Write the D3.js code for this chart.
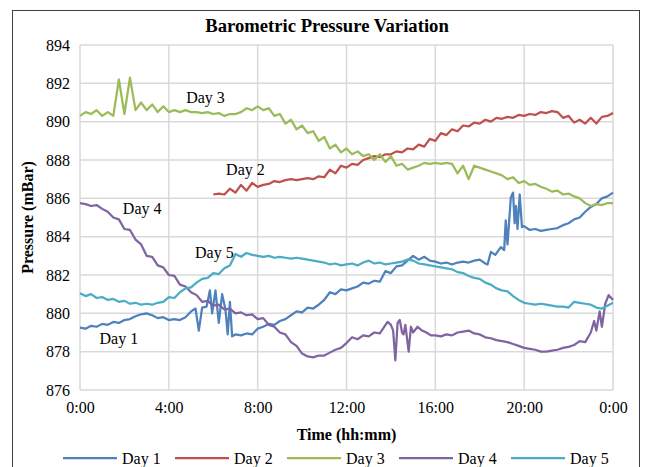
<!DOCTYPE html>
<html><head><meta charset="utf-8">
<script src="https://cdn.jsdelivr.net/npm/d3@7"></script>
<style>
body{margin:0;background:#fff}
svg{display:block}
text{font-family:"Liberation Serif","Times New Roman",serif;fill:#000}
</style>
</head><body>
<svg id="chart" width="645" height="467"></svg>
<script>
// ---------- data ----------
const chartTitle = "Barometric Pressure Variation";
const xAxisTitle = "Time (hh:mm)";
const yAxisTitle = "Pressure (mBar)";
const xTickHours = [0, 4, 8, 12, 16, 20, 24];
const xTickLabels = ["0:00", "4:00", "8:00", "12:00", "16:00", "20:00", "0:00"];
const yTicks = [876, 878, 880, 882, 884, 886, 888, 890, 892, 894];
const seriesNames = ["Day 1", "Day 2", "Day 3", "Day 4", "Day 5"];

// 15-minute sampling grid (hours) used by Day 2, Day 3, Day 5
const gridHours = d3.range(0, 24.001, 0.25);

// Day 1: [hour, mBar]
const day1 = [
 [0,879.25],[0.25,879.2],[0.5,879.35],[0.75,879.3],[1,879.45],[1.25,879.4],[1.5,879.55],[1.75,879.5],
 [2,879.65],[2.25,879.7],[2.5,879.85],[2.75,879.95],[3,880.0],[3.25,879.9],[3.5,879.75],[3.75,879.8],
 [4,879.65],[4.25,879.7],[4.5,879.65],[4.75,879.8],[5,880.1],[5.2,880.25],[5.35,879.1],[5.5,880.3],
 [5.7,880.35],[5.85,881.2],[5.95,880.0],[6.1,881.2],[6.25,879.5],[6.4,881.0],[6.55,880.2],[6.65,878.9],
 [6.75,880.6],[6.85,878.8],[7,878.9],[7.25,878.85],[7.5,878.95],[7.75,878.9],[8,879.2],[8.25,879.3],
 [8.5,879.45],[8.75,879.4],[9,879.6],[9.25,879.7],[9.5,879.9],[9.75,880.1],[10,880.05],[10.25,880.3],
 [10.5,880.25],[10.75,880.45],[11,880.7],[11.25,881.1],[11.5,881.0],[11.75,881.25],[12,881.2],[12.25,881.3],
 [12.5,881.4],[12.75,881.6],[13,881.55],[13.25,881.7],[13.5,881.65],[13.75,882.2],[14,882.1],[14.25,882.45],
 [14.5,882.5],[14.75,882.75],[15,883.0],[15.25,882.8],[15.5,882.95],[15.75,882.75],[16,882.7],[16.25,882.6],
 [16.5,882.65],[16.75,882.55],[17,882.65],[17.25,882.7],[17.5,882.65],[17.75,882.75],[18,882.8],[18.25,882.6],
 [18.35,882.55],[18.5,883.2],[18.7,883.05],[18.95,883.45],[19.1,883.3],[19.17,884.85],[19.25,883.6],[19.4,886.05],
 [19.5,886.3],[19.57,884.7],[19.63,885.6],[19.7,884.4],[19.8,886.2],[19.9,884.5],[20,884.55],[20.25,884.35],
 [20.5,884.4],[20.75,884.3],[21,884.35],[21.25,884.4],[21.5,884.45],[21.75,884.6],[22,884.7],[22.25,884.9],
 [22.5,885.0],[22.75,885.3],[23,885.55],[23.25,885.7],[23.5,886.0],[23.75,886.1],[24,886.3]
];

// Day 2: starts 6:00, on the 15-minute grid
const day2Start = 6;
const day2 = [
 886.2,886.25,886.2,886.5,   886.3,886.7,886.4,886.8,   886.6,886.7,886.75,886.9,
 886.85,886.95,887.0,886.95, 887.0,887.05,887.0,887.15, 887.1,887.5,887.3,887.7,
 887.6,887.8,887.75,888.0,   888.1,888.2,888.15,888.3,  888.3,888.45,888.4,888.6,
 888.55,888.8,888.7,889.1,   889.0,889.4,889.3,889.6,   889.5,889.8,889.75,889.95,
 889.9,890.1,890.0,890.2,    890.15,890.25,890.2,890.35, 890.3,890.4,890.35,890.5,
 890.45,890.55,890.5,890.2,  890.3,889.95,890.1,889.9,  890.2,889.9,890.25,890.3,
 890.45
];

// Day 3: 0:00-24:00 on the 15-minute grid
const day3 = [
 890.3,890.5,890.4,890.6,  890.3,890.5,890.3,892.2,  890.4,892.3,890.6,891.0,  890.6,890.9,890.5,890.8,
 890.5,890.6,890.5,890.6,  890.5,890.5,890.45,890.5, 890.4,890.45,890.3,890.4, 890.4,890.5,890.7,890.6,
 890.8,890.6,890.7,890.3,  890.4,889.9,890.1,889.6,  889.8,889.4,889.5,889.0,  889.2,888.6,888.8,888.4,
 888.6,888.3,888.45,888.2, 888.3,888.0,888.3,887.9,  888.2,887.7,887.8,887.5,  887.6,887.7,887.85,887.8,
 887.85,887.8,887.85,887.8, 887.3,887.7,887.0,887.7, 887.6,887.5,887.4,887.3,  887.2,887.0,887.1,886.8,
 886.9,886.7,886.75,886.6, 886.5,886.35,886.4,886.2, 886.25,886.1,886.0,885.75, 885.6,885.7,885.65,885.75,
 885.75
];

// Day 4: [hour, mBar]
const day4 = [
 [0,885.75],[0.25,885.7],[0.5,885.6],[0.75,885.65],[1,885.45],[1.25,885.3],[1.5,885.0],[1.75,884.9],
 [2,884.4],[2.25,884.35],[2.5,883.85],[2.75,883.6],[3,883.0],[3.25,882.95],[3.5,882.5],[3.75,882.4],
 [4,882.0],[4.25,881.95],[4.5,881.5],[4.75,881.4],[5,881.1],[5.25,880.95],[5.5,880.6],[5.75,880.65],
 [6,880.4],[6.25,880.45],[6.5,880.2],[6.75,880.25],[7,880.0],[7.25,880.05],[7.5,879.9],[7.75,879.95],
 [8,879.7],[8.25,879.75],[8.5,879.4],[8.75,879.3],[9,879.0],[9.25,878.9],[9.5,878.5],[9.75,878.3],
 [10,877.9],[10.25,877.75],[10.5,877.7],[10.75,877.8],[11,877.8],[11.25,877.95],[11.5,878.1],[11.75,878.2],
 [12,878.45],[12.25,878.75],[12.5,878.65],[12.75,878.85],[13,878.8],[13.25,879.0],[13.5,878.95],[13.85,879.55],
 [14,879.4],[14.1,879.1],[14.2,877.55],[14.3,879.5],[14.4,879.65],[14.5,879.0],[14.57,878.9],[14.65,879.4],
 [14.8,878.0],[14.9,879.3],[15,879.0],[15.2,879.3],[15.4,879.1],[15.6,879.0],[15.8,878.85],[16,878.85],
 [16.25,878.8],[16.5,878.9],[16.75,878.85],[17,879.0],[17.25,879.05],[17.5,879.1],[17.75,878.95],[18,878.9],
 [18.25,878.75],[18.5,878.7],[18.75,878.6],[19,878.55],[19.25,878.5],[19.5,878.4],[19.75,878.3],[20,878.2],
 [20.25,878.15],[20.5,878.1],[20.75,878.0],[21,878.0],[21.25,878.05],[21.5,878.1],[21.75,878.2],[22,878.25],
 [22.25,878.35],[22.5,878.55],[22.75,878.5],[23,879.0],[23.15,879.6],[23.25,879.1],[23.4,880.1],[23.5,879.3],
 [23.65,880.5],[23.8,880.95],[24,880.7]
];

// Day 5: 0:00-24:00 on the 15-minute grid
const day5 = [
 881.05,880.9,881.0,880.8,   880.85,880.7,880.75,880.6,  880.65,880.5,880.55,880.45, 880.5,880.45,880.55,880.6,
 880.85,880.8,881.1,881.3,   881.35,881.6,881.8,881.85,  882.1,882.05,882.35,882.5,  883.1,882.95,883.15,883.05,
 883.0,882.95,883.0,882.9,   882.95,882.9,882.85,882.9,  882.85,882.8,882.75,882.7,  882.65,882.55,882.6,882.5,
 882.55,882.6,882.5,882.65,  882.75,882.6,882.65,882.55, 882.6,882.65,882.7,882.8,   882.75,882.6,882.55,882.5,
 882.45,882.4,882.35,882.3,  882.15,882.1,881.95,881.85, 881.8,881.6,881.5,881.3,    881.2,881.15,880.9,880.7,
 880.55,880.5,880.45,880.5,  880.45,880.4,880.35,880.35, 880.3,880.6,880.55,880.5,   880.45,880.3,880.25,880.4,
 880.55
];

// in-plot labels: [series index, hour, mBar]
const pointLabels = [
 [0, 1.75, 878.4],
 [1, 7.45, 887.2],
 [2, 5.65, 891.0],
 [3, 2.8, 885.2],
 [4, 6.05, 882.9]
];

const colors = ["#4F81BD", "#C0504D", "#9BBB59", "#8064A2", "#4BACC6"];

// ---------- build ----------
const series = [
  day1.map(d => ({h: d[0], v: d[1]})),
  day2.map((v, i) => ({h: gridHours[i + day2Start * 4], v})),
  day3.map((v, i) => ({h: gridHours[i], v})),
  day4.map(d => ({h: d[0], v: d[1]})),
  day5.map((v, i) => ({h: gridHours[i], v}))
];

const svg = d3.select("#chart");
const W = 645, H = 467;
const plot = {left: 80, right: 613, top: 45, bottom: 390};

svg.append("rect").attr("width", W).attr("height", H).attr("fill", "#fff");
svg.append("rect").attr("x", 12.5).attr("y", 10.5).attr("width", 627).attr("height", 470)
  .attr("fill", "none").attr("stroke", "#404040").attr("stroke-width", 1);

const x = d3.scaleLinear().domain([0, 24]).range([plot.left, plot.right]);
const y = d3.scaleLinear().domain([876, 894]).range([plot.bottom, plot.top]);

// gridlines
const grid = svg.append("g").attr("stroke", "#D9D9D9").attr("stroke-width", 1.5);
grid.selectAll("line.h").data(yTicks).join("line")
  .attr("x1", plot.left).attr("x2", plot.right)
  .attr("y1", d => y(d)).attr("y2", d => y(d));
grid.selectAll("line.v").data(xTickHours).join("line")
  .attr("y1", plot.top).attr("y2", plot.bottom)
  .attr("x1", d => x(d)).attr("x2", d => x(d));

// axes (labels only; lines are the gridlines)
const yAxis = d3.axisLeft(y).tickValues(yTicks).tickSize(0).tickPadding(10).tickFormat(d3.format("d"));
const yg = svg.append("g").attr("transform", `translate(${plot.left},0)`).call(yAxis);
yg.select(".domain").remove();
yg.selectAll("text").attr("font-size", 16).attr("font-family", "Liberation Serif").attr("fill", "#000");

const xAxis = d3.axisBottom(x).tickValues(xTickHours).tickSize(0).tickPadding(12)
  .tickFormat((d, i) => xTickLabels[i]);
const xg = svg.append("g").attr("transform", `translate(0,${plot.bottom})`).call(xAxis);
xg.select(".domain").remove();
xg.selectAll("text").attr("font-size", 16).attr("font-family", "Liberation Serif").attr("fill", "#000");

// lines
const line = d3.line().x(d => x(d.h)).y(d => y(d.v));
svg.append("g").selectAll("path").data(series).join("path")
  .attr("d", line).attr("fill", "none")
  .attr("stroke", (d, i) => colors[i]).attr("stroke-width", 2.25)
  .attr("stroke-linejoin", "round");

// in-plot labels
svg.append("g").selectAll("text").data(pointLabels).join("text")
  .attr("x", d => x(d[1])).attr("y", d => y(d[2]))
  .attr("text-anchor", "middle").attr("font-size", 16)
  .text(d => seriesNames[d[0]]);

// titles
svg.append("text").attr("x", 327).attr("y", 32).attr("text-anchor", "middle")
  .attr("font-size", 18.67).attr("font-weight", "bold").text(chartTitle);
svg.append("text").attr("x", (plot.left + plot.right) / 2).attr("y", 440).attr("text-anchor", "middle")
  .attr("font-size", 16).attr("font-weight", "bold").text(xAxisTitle);
svg.append("text").attr("transform", `translate(33,${(plot.top + plot.bottom) / 2}) rotate(-90)`)
  .attr("text-anchor", "middle").attr("font-size", 16).attr("font-weight", "bold").text(yAxisTitle);

// legend
const lg = svg.append("g").attr("transform", "translate(63,458)");
const items = lg.selectAll("g").data(seriesNames).join("g")
  .attr("transform", (d, i) => `translate(${i * 112},0)`);
items.append("line").attr("x1", 0).attr("x2", 54).attr("y1", 0).attr("y2", 0)
  .attr("stroke", (d, i) => colors[i]).attr("stroke-width", 2.25);
items.append("text").attr("x", 59).attr("y", 5.5).attr("font-size", 16).text(d => d);
</script>
</body></html>
